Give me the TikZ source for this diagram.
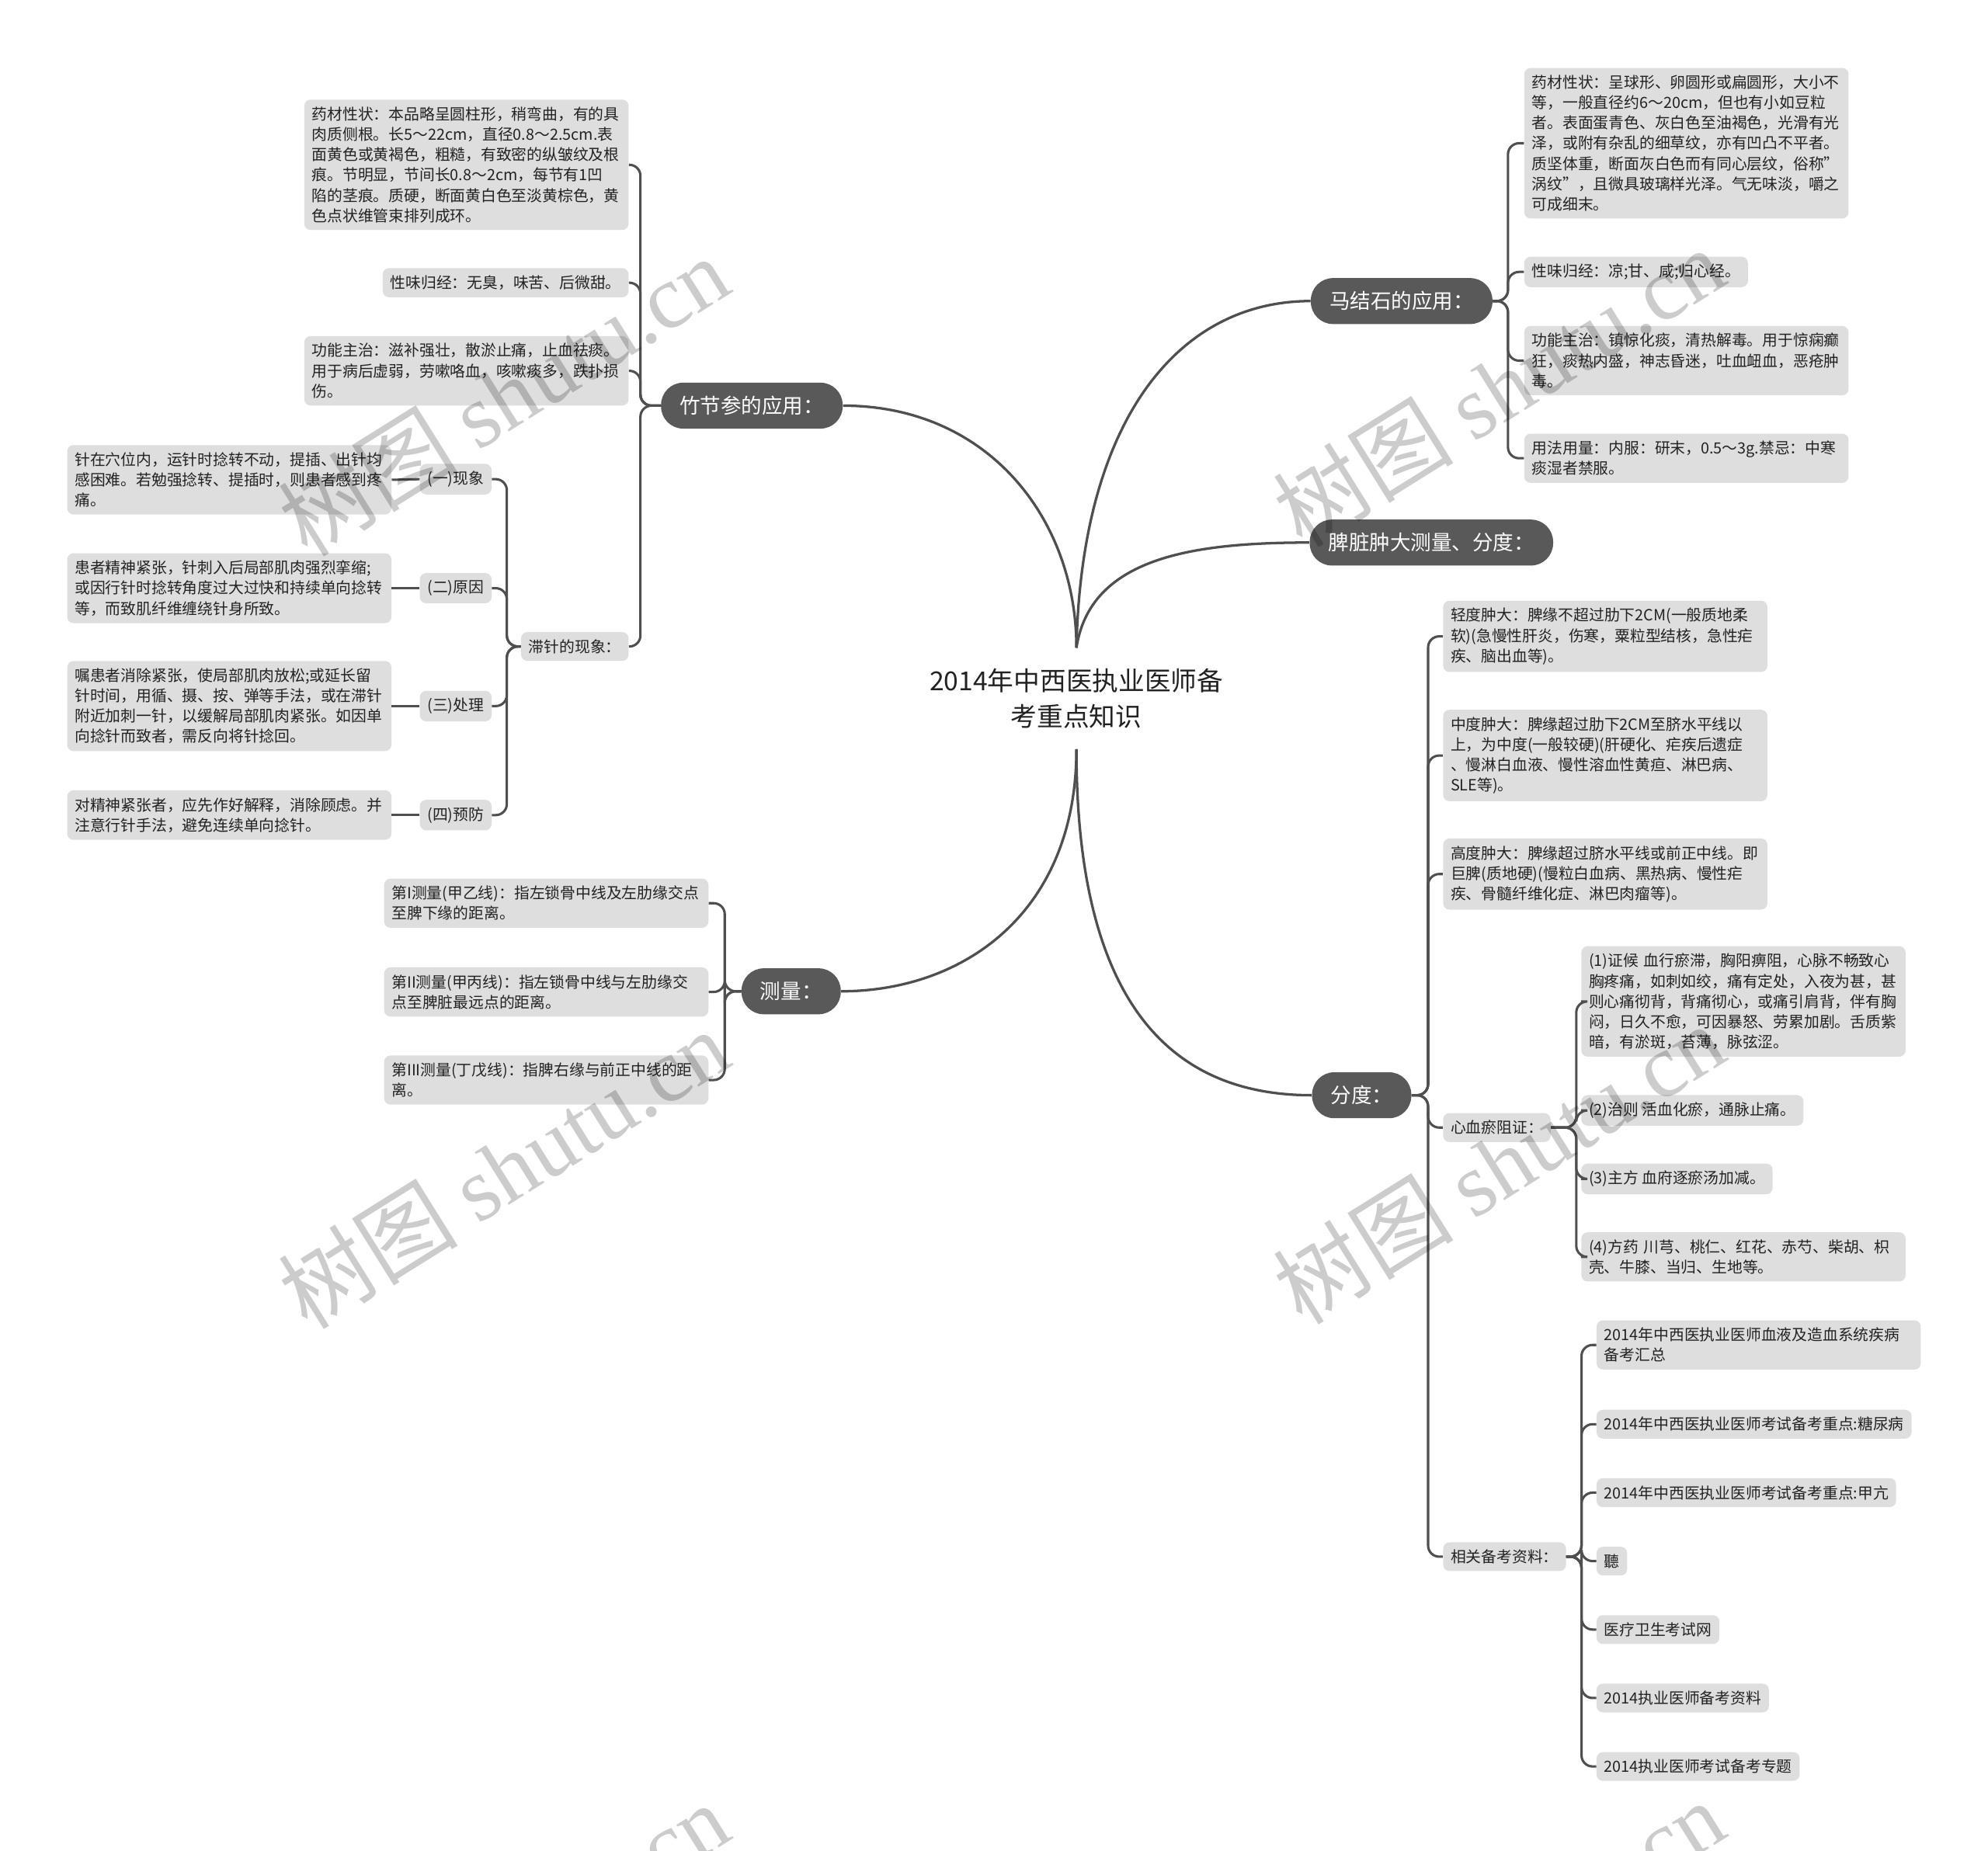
\documentclass[tikz,border=0pt]{standalone}
\usepackage{fontspec}
\setmainfont{Noto Sans CJK SC}
\newfontfamily\wmserif{Liberation Serif}
\definecolor{leafgray}{HTML}{DEDEDE}
\definecolor{maingray}{HTML}{595959}
\definecolor{linegray}{HTML}{4F4F4F}
\definecolor{txtgray}{HTML}{222222}
\begin{document}
\begin{tikzpicture}[x=0.8pt,y=-0.8pt,
  conn/.style={draw=linegray, line width=1.5pt, rounded corners=7pt},
  curve/.style={draw=linegray, line width=1.6pt},
  leaf/.style={fill=leafgray, rounded corners=4pt, inner xsep=4.8pt, inner ysep=4.6pt, text=txtgray, font=\fontsize{9.7pt}{12.8pt}\selectfont},
  multi/.style={leaf, text width=195pt, align=left},
  mainbox/.style={fill=maingray, text=white, rounded corners=14pt, minimum height=29pt, inner xsep=11.8pt, font=\fontsize{13pt}{16pt}\selectfont},
  wm/.style={rotate=32, text=black, opacity=0.2, font=\fontsize{57pt}{60pt}\selectfont}
]
\useasboundingbox (0,0) rectangle (1568,1460);
\fill[white] (0,0) rectangle (1568,1460);

% title
\node[align=center, text=txtgray, inner ysep=13pt, font=\fontsize{16.5pt}{22.4pt}\selectfont] (title) at (849,551) {2014年中西医执业医师备\\考重点知识};

% main nodes
\node[mainbox] (zhu) at (593,320) {竹节参的应用：};
\node[mainbox] (ma) at (1105.5,237.5) {马结石的应用：};
\node[mainbox] (pi) at (1129,428) {脾脏肿大测量、分度：};
\node[mainbox] (cl) at (624,782) {测量：};
\node[mainbox] (fd) at (1074,864) {分度：};

% left: 竹节参
\node[multi, anchor=east] (a1) at (496,130) {药材性状：本品略呈圆柱形，稍弯曲，有的具\\肉质侧根。长5～22cm，直径0.8～2.5cm.表\\面黄色或黄褐色，粗糙，有致密的纵皱纹及根\\痕。节明显，节间长0.8～2cm，每节有1凹\\陷的茎痕。质硬，断面黄白色至淡黄棕色，黄\\色点状维管束排列成环。};
\node[leaf, anchor=east] (a2) at (496,223) {性味归经：无臭，味苦、后微甜。};
\node[multi, anchor=east] (a3) at (496,292.5) {功能主治：滋补强壮，散淤止痛，止血祛痰。\\用于病后虚弱，劳嗽咯血，咳嗽痰多，跌扑损\\伤。};
\node[leaf, anchor=east] (a4) at (496,510) {滞针的现象：};

\node[leaf, anchor=east] (b1) at (388,378) {(一)现象};
\node[leaf, anchor=east] (b2) at (388,464) {(二)原因};
\node[leaf, anchor=east] (b3) at (388,557) {(三)处理};
\node[leaf, anchor=east] (b4) at (388,643) {(四)预防};

\node[multi, anchor=east] (c1) at (309,378.5) {针在穴位内，运针时捻转不动，提插、出针均\\感困难。若勉强捻转、提插时，则患者感到疼\\痛。};
\node[multi, anchor=east] (c2) at (309,464) {患者精神紧张，针刺入后局部肌肉强烈挛缩;\\或因行针时捻转角度过大过快和持续单向捻转\\等，而致肌纤维缠绕针身所致。};
\node[multi, anchor=east] (c3) at (309,557) {嘱患者消除紧张，使局部肌肉放松;或延长留\\针时间，用循、摄、按、弹等手法，或在滞针\\附近加刺一针，以缓解局部肌肉紧张。如因单\\向捻针而致者，需反向将针捻回。};
\node[multi, anchor=east] (c4) at (309,643) {对精神紧张者，应先作好解释，消除顾虑。并\\注意行针手法，避免连续单向捻针。};

% left: 测量
\node[multi, anchor=east] (m1) at (559,712.5) {第I测量(甲乙线)：指左锁骨中线及左肋缘交点\\至脾下缘的距离。};
\node[multi, anchor=east] (m2) at (559,782.5) {第II测量(甲丙线)：指左锁骨中线与左肋缘交\\点至脾脏最远点的距离。};
\node[multi, anchor=east] (m3) at (559,852) {第III测量(丁戊线)：指脾右缘与前正中线的距\\离。};

% right: 马结石
\node[multi, anchor=west] (d1) at (1202,113) {药材性状：呈球形、卵圆形或扁圆形，大小不\\等，一般直径约6～20cm，但也有小如豆粒\\者。表面蛋青色、灰白色至油褐色，光滑有光\\泽，或附有杂乱的细草纹，亦有凹凸不平者。\\质坚体重，断面灰白色而有同心层纹，俗称"\\涡纹"，且微具玻璃样光泽。气无味淡，嚼之\\可成细末。};
\node[leaf, anchor=west] (d2) at (1202,214.5) {性味归经：凉;甘、咸;归心经。};
\node[multi, anchor=west] (d3) at (1202,284.5) {功能主治：镇惊化痰，清热解毒。用于惊痫癫\\狂，痰热内盛，神志昏迷，吐血衄血，恶疮肿\\毒。};
\node[multi, anchor=west] (d4) at (1202,361.5) {用法用量：内服：研末，0.5～3g.禁忌：中寒\\痰湿者禁服。};

% right: 分度
\node[multi, anchor=west] (e1) at (1138,502) {轻度肿大：脾缘不超过肋下2CM(一般质地柔\\软)(急慢性肝炎，伤寒，粟粒型结核，急性疟\\疾、脑出血等)。};
\node[multi, anchor=west] (e2) at (1138,596) {中度肿大：脾缘超过肋下2CM至脐水平线以\\上，为中度(一般较硬)(肝硬化、疟疾后遗症\\、慢淋白血液、慢性溶血性黄疸、淋巴病、\\SLE等)。};
\node[multi, anchor=west] (e3) at (1138,689.5) {高度肿大：脾缘超过脐水平线或前正中线。即\\巨脾(质地硬)(慢粒白血病、黑热病、慢性疟\\疾、骨髓纤维化症、淋巴肉瘤等)。};
\node[leaf, anchor=west] (e4) at (1138,889.5) {心血瘀阻证：};
\node[leaf, anchor=west] (e5) at (1138,1228) {相关备考资料：};

\node[multi, anchor=west] (f1) at (1247,790) {(1)证候~血行瘀滞，胸阳痹阻，心脉不畅致心\\胸疼痛，如刺如绞，痛有定处，入夜为甚，甚\\则心痛彻背，背痛彻心，或痛引肩背，伴有胸\\闷，日久不愈，可因暴怒、劳累加剧。舌质紫\\暗，有淤斑，苔薄，脉弦涩。};
\node[leaf, anchor=west] (f2) at (1247,876) {(2)治则 活血化瘀，通脉止痛。};
\node[leaf, anchor=west] (f3) at (1247,930) {(3)主方 血府逐瘀汤加减。};
\node[multi, anchor=west] (f4) at (1247,991.5) {(4)方药~川芎、桃仁、红花、赤芍、柴胡、枳\\壳、牛膝、当归、生地等。};

\node[multi, anchor=west] (g1) at (1259,1061) {2014年中西医执业医师血液及造血系统疾病\\备考汇总};
\node[leaf, anchor=west] (g2) at (1259,1123.5) {2014年中西医执业医师考试备考重点:糖尿病};
\node[leaf, anchor=west] (g3) at (1259,1177.5) {2014年中西医执业医师考试备考重点:甲亢};
\node[leaf, anchor=west] (g4) at (1259,1231.5) {聽};
\node[leaf, anchor=west] (g5) at (1259,1285.5) {医疗卫生考试网};
\node[leaf, anchor=west] (g6) at (1259,1339.5) {2014执业医师备考资料};
\node[leaf, anchor=west] (g7) at (1259,1393.5) {2014执业医师考试备考专题};

% curves from title
\draw[curve] (title.north) .. controls (849,410) and (780,320) .. (zhu.east);
\draw[curve] (title.north) .. controls (853,330) and (930,237.5) .. (ma.west);
\draw[curve] (title.north) .. controls (860,440) and (940,428) .. (pi.west);
\draw[curve] (title.south) .. controls (849,720) and (760,782) .. (cl.east);
\draw[curve] (title.south) .. controls (849,800) and (930,864) .. (fd.west);

% branch connectors
\foreach \n in {a1,a2,a3,a4} \draw[conn] (zhu.west) -- ++(-16,0) |- (\n.east);
\foreach \n in {b1,b2,b3,b4} \draw[conn] (a4.west) -- ++(-11,0) |- (\n.east);
\draw[conn] (b1.west) -- (c1.east);
\draw[conn] (b2.west) -- (c2.east);
\draw[conn] (b3.west) -- (c3.east);
\draw[conn] (b4.west) -- (c4.east);
\foreach \n in {m1,m2,m3} \draw[conn] (cl.west) -- ++(-13,0) |- (\n.east);
\foreach \n in {d1,d2,d3,d4} \draw[conn] (ma.east) -- ++(12,0) |- (\n.west);
\foreach \n in {e1,e2,e3,e4,e5} \draw[conn] (fd.east) -- ++(13,0) |- (\n.west);
\foreach \n in {f1,f2,f3,f4} \draw[conn] (e4.east) -- ++(20,0) |- (\n.west);
\foreach \n in {g1,g2,g3,g4,g5,g6,g7} \draw[conn] (e5.east) -- ++(12,0) |- (\n.west);

% watermarks
\foreach \cx/\cy in {397/312, 397/922, 397/1532, 1182/305, 1182/918, 1182/1530}
  \node[wm] at (\cx,\cy) {树图\ {\wmserif shutu.cn}};
\end{tikzpicture}
\end{document}
